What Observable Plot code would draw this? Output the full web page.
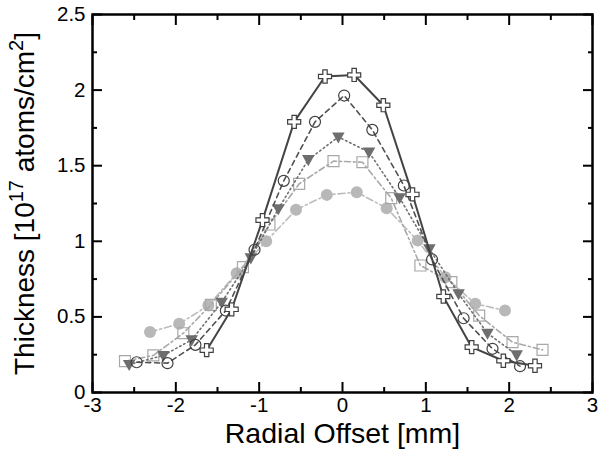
<!DOCTYPE html>
<html><head><meta charset="utf-8">
<script src="https://cdn.jsdelivr.net/npm/d3@7"></script>
<script src="https://cdn.jsdelivr.net/npm/@observablehq/plot@0.6"></script>
<style>body{margin:0;background:#fff;} svg{display:block}</style>
</head><body><div id="chart"></div>
<script>
// Series 1: solid line, open cross markers
const crossX = [-1.63, -1.33, -0.96, -0.58, -0.21, 0.14, 0.49, 0.84, 1.21, 1.55, 1.93, 2.31];
const crossY = [0.28, 0.55, 1.14, 1.79, 2.09, 2.10, 1.90, 1.31, 0.635, 0.30, 0.21, 0.177];
// Series 2: dashed line, open circles
const circX = [-2.47, -2.10, -1.765, -1.40, -1.056, -0.705, -0.33, 0.02, 0.358, 0.736, 1.075, 1.453, 1.80, 2.13];
const circY = [0.20, 0.194, 0.315, 0.542, 0.944, 1.40, 1.79, 1.964, 1.737, 1.369, 0.88, 0.491, 0.289, 0.174];
// Series 3: dotted line, filled down triangles
const triX = [-2.56, -2.15, -1.81, -1.45, -1.10, -0.77, -0.41, -0.05, 0.318, 0.685, 1.043, 1.393, 1.74, 2.09];
const triY = [0.185, 0.245, 0.348, 0.597, 0.89, 1.215, 1.54, 1.69, 1.59, 1.288, 0.95, 0.653, 0.392, 0.249];
// Series 4: dash-dot line, open squares
const sqX = [-2.61, -2.27, -1.91, -1.58, -1.195, -0.877, -0.52, -0.108, 0.239, 0.585, 0.935, 1.306, 1.64, 2.04, 2.40];
const sqY = [0.207, 0.245, 0.392, 0.58, 0.829, 1.111, 1.38, 1.53, 1.523, 1.285, 0.84, 0.73, 0.509, 0.333, 0.282];
// Series 5: dash-dot line, filled circles
const fcX = [-2.31, -1.96, -1.61, -1.27, -0.916, -0.558, -0.188, 0.171, 0.53, 0.903, 1.234, 1.593, 1.95];
const fcY = [0.40, 0.454, 0.575, 0.789, 1.0, 1.208, 1.307, 1.325, 1.219, 1.005, 0.763, 0.587, 0.542];

const xTicks = [-3, -2, -1, 0, 1, 2, 3];
const xTickLabels = ["-3", "-2", "-1", "0", "1", "2", "3"];
const xMinor = [-2.5, -1.5, -0.5, 0.5, 1.5, 2.5];
const yTicks = [0, 0.5, 1, 1.5, 2, 2.5];
const yTickLabels = ["0", "0.5", "1", "1.5", "2", "2.5"];
const yMinor = [0.25, 0.75, 1.25, 1.75, 2.25];
const xTitle = "Radial Offset [mm]";
const yTitleParts = [["Thickness [10", false], ["17", true], [" atoms/cm", false], ["2", true], ["]", false]];
const yTitle = yTitleParts.map(p => p[0]).join("");

const rows = (xs, ys) => xs.map((x, i) => ({x, y: ys[i]}));
const triDown = {
  draw(ctx, size) {
    const r = Math.sqrt(size / Math.PI);
    ctx.moveTo(-1.1 * r, -0.8 * r);
    ctx.lineTo(1.1 * r, -0.8 * r);
    ctx.lineTo(0, 1.15 * r);
    ctx.closePath();
  }
};

const series = [
  {d: rows(fcX, fcY), stroke: "#bcbcbc", dash: "7,3,2,3", sym: "circle", mfill: "#b8b8b8", mstroke: "none", r: 6},
  {d: rows(sqX, sqY), stroke: "#a8a8a8", dash: "6,3,2,3", sym: "square", mfill: "none", mstroke: "#a8a8a8", r: 6.2},
  {d: rows(triX, triY), stroke: "#707070", dash: "1.5,3", sym: triDown, mfill: "#6e6e6e", mstroke: "none", r: 5.7},
  {d: rows(circX, circY), stroke: "#505050", dash: "5,4", sym: "circle", mfill: "none", mstroke: "#404040", r: 5.5},
  {d: rows(crossX, crossY), stroke: "#444444", dash: null, sym: "cross", mfill: "white", mstroke: "#404040", r: 5.5}
];

const marks = [];
for (const s of series) {
  marks.push(Plot.line(s.d, {x: "x", y: "y", stroke: s.stroke, strokeWidth: s.dash ? 1.6 : 2, strokeDasharray: s.dash}));
  marks.push(Plot.dot(s.d, {x: "x", y: "y", symbol: s.sym, r: s.r, fill: s.mfill, stroke: s.mstroke, strokeWidth: 1.2}));
}

const chart = Plot.plot({
  width: 598, height: 455,
  marginLeft: 92, marginRight: 6, marginTop: 14, marginBottom: 63,
  style: {fontFamily: "'Liberation Sans', Arial, sans-serif", background: "white", color: "black", overflow: "visible"},
  x: {domain: [-3, 3]},
  y: {domain: [0, 2.5]},
  marks: [
    ...marks,
    Plot.frame({stroke: "black", strokeWidth: 2.5}),
    Plot.axisX(xTicks, {anchor: "bottom", tickSize: -10, tickPadding: 15, strokeWidth: 2, fontSize: 20.5,
      tickFormat: d => xTickLabels[xTicks.indexOf(d)], label: null}),
    Plot.axisX(xMinor, {anchor: "bottom", tickSize: -5, strokeWidth: 2, fill: "none", label: null}),
    Plot.axisX(xTicks, {anchor: "top", tickSize: -10, strokeWidth: 2, fill: "none", label: null}),
    Plot.axisX(xMinor, {anchor: "top", tickSize: -5, strokeWidth: 2, fill: "none", label: null}),
    Plot.axisY(yTicks, {anchor: "left", tickSize: -10, tickPadding: 17, strokeWidth: 2, fontSize: 20.5,
      tickFormat: d => yTickLabels[yTicks.indexOf(d)], label: null}),
    Plot.axisY(yMinor, {anchor: "left", tickSize: -5, strokeWidth: 2, fill: "none", label: null}),
    Plot.axisY(yTicks, {anchor: "right", tickSize: -10, strokeWidth: 2, fill: "none", label: null}),
    Plot.axisY(yMinor, {anchor: "right", tickSize: -5, strokeWidth: 2, fill: "none", label: null}),
    Plot.text([xTitle], {frameAnchor: "bottom", dy: 50, fontSize: 28.5, text: d => d, fill: "black", textAnchor: "middle"}),
    Plot.text([yTitle], {frameAnchor: "left", dx: -67, rotate: -90, fontSize: 28, text: d => d, fill: "black", textAnchor: "middle"})
  ]
});
document.getElementById("chart").appendChild(chart);

// superscripts in the y title
d3.select(chart).selectAll("text").filter(function () { return this.textContent === yTitle; }).each(function () {
  const t = d3.select(this);
  t.text(null);
  let raised = false;
  for (const [s, sup] of yTitleParts) {
    const ts = t.append("tspan").text(s);
    if (sup && !raised) { ts.attr("font-size", 20).attr("dy", -11); raised = true; }
    else if (!sup && raised) { ts.attr("dy", 11); raised = false; }
    else if (sup) { ts.attr("font-size", 20); }
  }
});
</script>
</body></html>
